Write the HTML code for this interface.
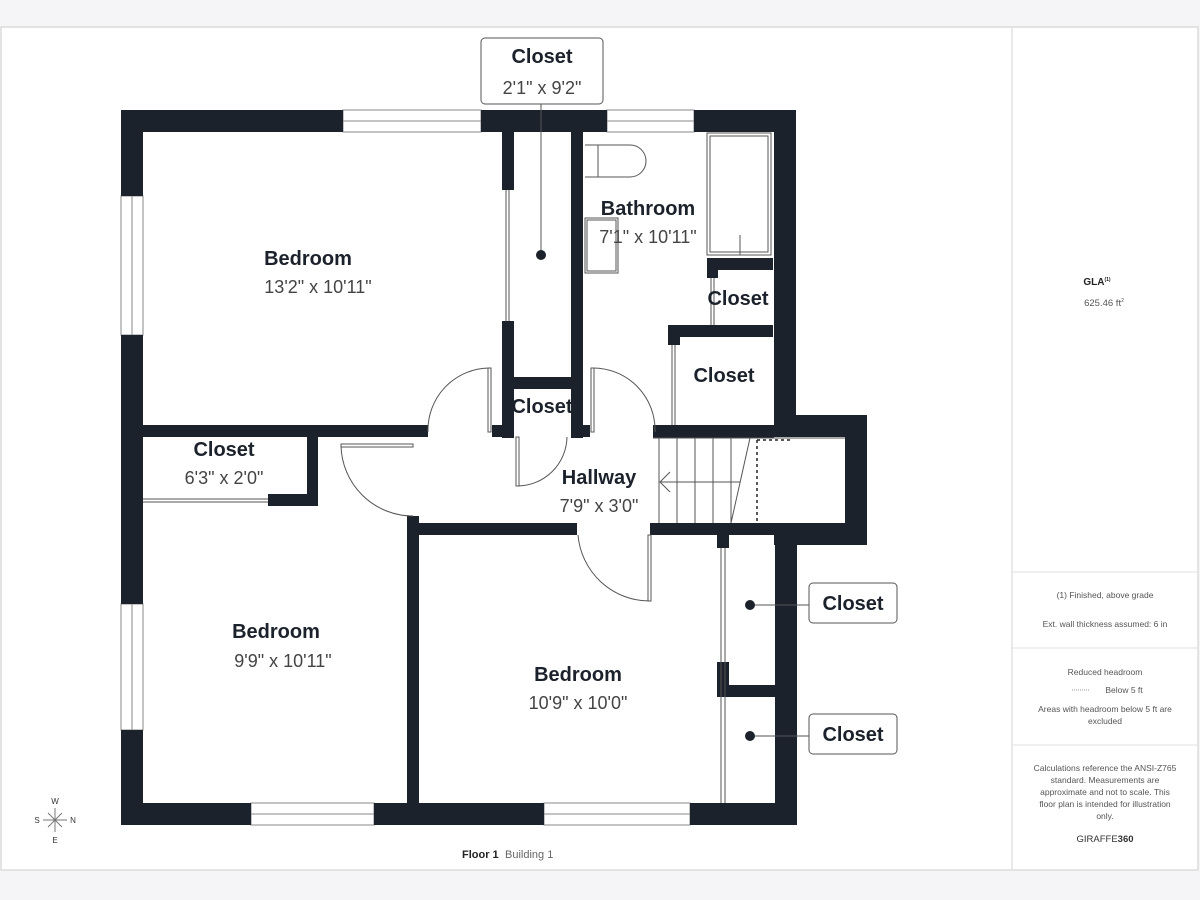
<!DOCTYPE html>
<html><head><meta charset="utf-8"><style>
html,body{margin:0;padding:0;width:1200px;height:900px;background:#f5f4f6;overflow:hidden}
svg{display:block}
text{font-family:"Liberation Sans",sans-serif}
</style></head><body>
<svg width="1200" height="900" viewBox="0 0 1200 900" xmlns="http://www.w3.org/2000/svg">
<rect x="1" y="27" width="1197" height="843" fill="#fff" stroke="#dcdcdc" stroke-width="1.5"/>
<line x1="1012" y1="27" x2="1012" y2="870" stroke="#e2e2e2" stroke-width="1.5"/>
<line x1="1012" y1="572" x2="1198" y2="572" stroke="#e2e2e2"/>
<line x1="1012" y1="648" x2="1198" y2="648" stroke="#e2e2e2"/>
<line x1="1012" y1="745" x2="1198" y2="745" stroke="#e2e2e2"/>
<g fill="#555" font-size="8.5" text-anchor="middle">
<text x="1097" y="285" font-weight="bold" fill="#222" font-size="10">GLA<tspan font-size="5" dy="-4">(1)</tspan></text>
<text x="1104" y="306" font-size="9.5">625.46 ft<tspan font-size="5" dy="-4">2</tspan></text>
<text x="1105" y="598">(1) Finished, above grade</text>
<text x="1105" y="627">Ext. wall thickness assumed: 6 in</text>
<text x="1105" y="675">Reduced headroom</text>
<text x="1124" y="693">Below 5 ft</text>
<line x1="1072" y1="690" x2="1090" y2="690" stroke="#999" stroke-dasharray="1,1"/>
<text x="1105" y="712">Areas with headroom below 5 ft are</text>
<text x="1105" y="724">excluded</text>
<text x="1105" y="771">Calculations reference the ANSI-Z765</text>
<text x="1105" y="783">standard. Measurements are</text>
<text x="1105" y="795">approximate and not to scale. This</text>
<text x="1105" y="807">floor plan is intended for illustration</text>
<text x="1105" y="819">only.</text>
<text x="1105" y="842" font-size="9.5" fill="#333">GIRAFFE<tspan font-weight="bold">360</tspan></text>
</g>
<text x="462" y="858" font-size="11" font-weight="bold" fill="#222">Floor 1</text>
<text x="505" y="858" font-size="11" fill="#666">Building 1</text>
<!-- compass -->
<g stroke="#777" stroke-width="1"><line x1="55" y1="808" x2="55" y2="832"/><line x1="43" y1="820" x2="67" y2="820"/><line x1="48" y1="813" x2="62" y2="827"/><line x1="62" y1="813" x2="48" y2="827"/></g>
<g font-size="8" fill="#333" text-anchor="middle"><text x="55" y="804">W</text><text x="55" y="843">E</text><text x="37" y="823">S</text><text x="73" y="823">N</text></g>
<!-- windows -->
<g fill="#fff" stroke="#888" stroke-width="1">
<rect x="343" y="110" width="138" height="22"/><line x1="343" y1="121" x2="481" y2="121"/>
<rect x="607" y="110" width="87" height="22"/><line x1="607" y1="121" x2="694" y2="121"/>
<rect x="121" y="196" width="22" height="139"/><line x1="132" y1="196" x2="132" y2="335"/>
<rect x="121" y="604" width="22" height="126"/><line x1="132" y1="604" x2="132" y2="730"/>
<rect x="251" y="803" width="123" height="22"/><line x1="251" y1="814" x2="374" y2="814"/>
<rect x="544" y="803" width="146" height="22"/><line x1="544" y1="814" x2="690" y2="814"/>
</g>
<g fill="#1c222b">
<!-- outer -->
<rect x="121" y="110" width="222" height="22"/>
<rect x="481" y="110" width="126" height="22"/>
<rect x="694" y="110" width="102" height="22"/>
<rect x="121" y="110" width="22" height="86"/>
<rect x="121" y="335" width="22" height="269"/>
<rect x="121" y="730" width="22" height="95"/>
<rect x="121" y="803" width="130" height="22"/>
<rect x="374" y="803" width="170" height="22"/>
<rect x="690" y="803" width="107" height="22"/>
<rect x="774" y="110" width="22" height="327"/>
<rect x="774" y="415" width="93" height="22"/>
<rect x="845" y="415" width="22" height="130"/>
<rect x="774" y="523" width="93" height="22"/>
<rect x="775" y="523" width="22" height="302"/>
<!-- interior -->
<rect x="143" y="425" width="285" height="12"/>
<rect x="307" y="437" width="11" height="69"/>
<rect x="268" y="494" width="50" height="12"/>
<rect x="407" y="516" width="12" height="309"/>
<rect x="407" y="523" width="170" height="12"/>
<rect x="650" y="523" width="125" height="12"/>
<rect x="653" y="425" width="121" height="13"/>
<rect x="502" y="132" width="12" height="58"/>
<rect x="502" y="321" width="12" height="117"/>
<rect x="514" y="377" width="57" height="12"/>
<rect x="571" y="132" width="12" height="306"/>
<rect x="492" y="425" width="22" height="12"/>
<rect x="571" y="425" width="19" height="12"/>
<rect x="707" y="258" width="66" height="12"/>
<rect x="707" y="258" width="11" height="20"/>
<rect x="668" y="325" width="105" height="12"/>
<rect x="668" y="325" width="12" height="20"/>
<rect x="717" y="535" width="12" height="13"/>
<rect x="717" y="662" width="12" height="35"/>
<rect x="717" y="685" width="58" height="12"/>
</g>
<g fill="none" stroke="#555" stroke-width="1">
<!-- sliding doors -->
<line x1="143" y1="499" x2="268" y2="499"/><line x1="143" y1="502" x2="268" y2="502"/>
<line x1="506" y1="190" x2="506" y2="321"/><line x1="509" y1="190" x2="509" y2="321"/>
<line x1="721" y1="548" x2="721" y2="803"/><line x1="725" y1="548" x2="725" y2="803"/>
<line x1="711" y1="278" x2="711" y2="325"/><line x1="714" y1="278" x2="714" y2="325"/>
<line x1="672" y1="345" x2="672" y2="425"/><line x1="675" y1="345" x2="675" y2="425"/>
<!-- doors -->
<rect x="341" y="444" width="72" height="3"/><path d="M341 446 A72 72 0 0 0 413 516"/>
<rect x="488" y="368" width="3" height="64"/><path d="M489 368 A62 62 0 0 0 428 432"/>
<rect x="591" y="368" width="3" height="64"/><path d="M592 368 A62 62 0 0 1 655 432"/>
<rect x="516" y="437" width="3" height="49"/><path d="M517 486 A50 50 0 0 0 567 437"/>
<rect x="648" y="535" width="3" height="66"/><path d="M650 601 A72 72 0 0 1 578 535"/>
<!-- bathroom fixtures -->
<rect x="707" y="133" width="64" height="122"/><rect x="710" y="136" width="58" height="116"/>
<line x1="740" y1="235" x2="740" y2="255"/>
<path d="M585 145 H630 A16 16 0 0 1 630 177 H585"/><line x1="598" y1="145" x2="598" y2="177"/>
<rect x="585" y="218" width="33" height="55"/><rect x="587" y="220" width="29" height="51"/>
<!-- stairs -->
<line x1="653" y1="438" x2="845" y2="438"/>
<line x1="659" y1="438" x2="659" y2="523"/><line x1="677" y1="438" x2="677" y2="523"/>
<line x1="695" y1="438" x2="695" y2="523"/><line x1="713" y1="438" x2="713" y2="523"/>
<line x1="731" y1="438" x2="731" y2="523"/><line x1="750" y1="438" x2="731" y2="523"/>
<line x1="661" y1="482" x2="740" y2="482"/><path d="M670 472 L660 482 L670 492"/>
</g>
<g stroke="#222" stroke-width="1.5" stroke-dasharray="3,3" fill="none"><line x1="757" y1="440" x2="757" y2="523"/><line x1="757" y1="440" x2="790" y2="440"/></g>
<!-- labels -->
<g stroke="#555" stroke-width="1" fill="none"><line x1="541" y1="104" x2="541" y2="255"/><line x1="750" y1="605" x2="809" y2="605"/><line x1="750" y1="736" x2="809" y2="736"/></g>
<g fill="#1c222b"><circle cx="541" cy="255" r="5"/><circle cx="750" cy="605" r="5"/><circle cx="750" cy="736" r="5"/></g>
<g fill="#fff" stroke="#555" stroke-width="1"><rect x="481" y="38" width="122" height="66" rx="4"/><rect x="809" y="583" width="88" height="40" rx="4"/><rect x="809" y="714" width="88" height="40" rx="4"/></g>
<g text-anchor="middle" font-size="20" font-weight="bold" fill="#1c222b">
<text x="542" y="63">Closet</text>
<text x="853" y="610">Closet</text><text x="853" y="741">Closet</text>
<text x="308" y="265">Bedroom</text>
<text x="648" y="215">Bathroom</text>
<text x="738" y="305">Closet</text>
<text x="724" y="382">Closet</text>
<text x="542" y="413">Closet</text>
<text x="224" y="456">Closet</text>
<text x="599" y="484">Hallway</text>
<text x="276" y="638">Bedroom</text>
<text x="578" y="681">Bedroom</text>
</g>
<g text-anchor="middle" font-size="18" fill="#444">
<text x="542" y="94">2'1" x 9'2"</text>
<text x="318" y="293">13'2" x 10'11"</text>
<text x="648" y="243">7'1" x 10'11"</text>
<text x="224" y="484">6'3" x 2'0"</text>
<text x="599" y="512">7'9" x 3'0"</text>
<text x="283" y="667">9'9" x 10'11"</text>
<text x="578" y="709">10'9" x 10'0"</text>
</g>
</svg>
</body></html>
